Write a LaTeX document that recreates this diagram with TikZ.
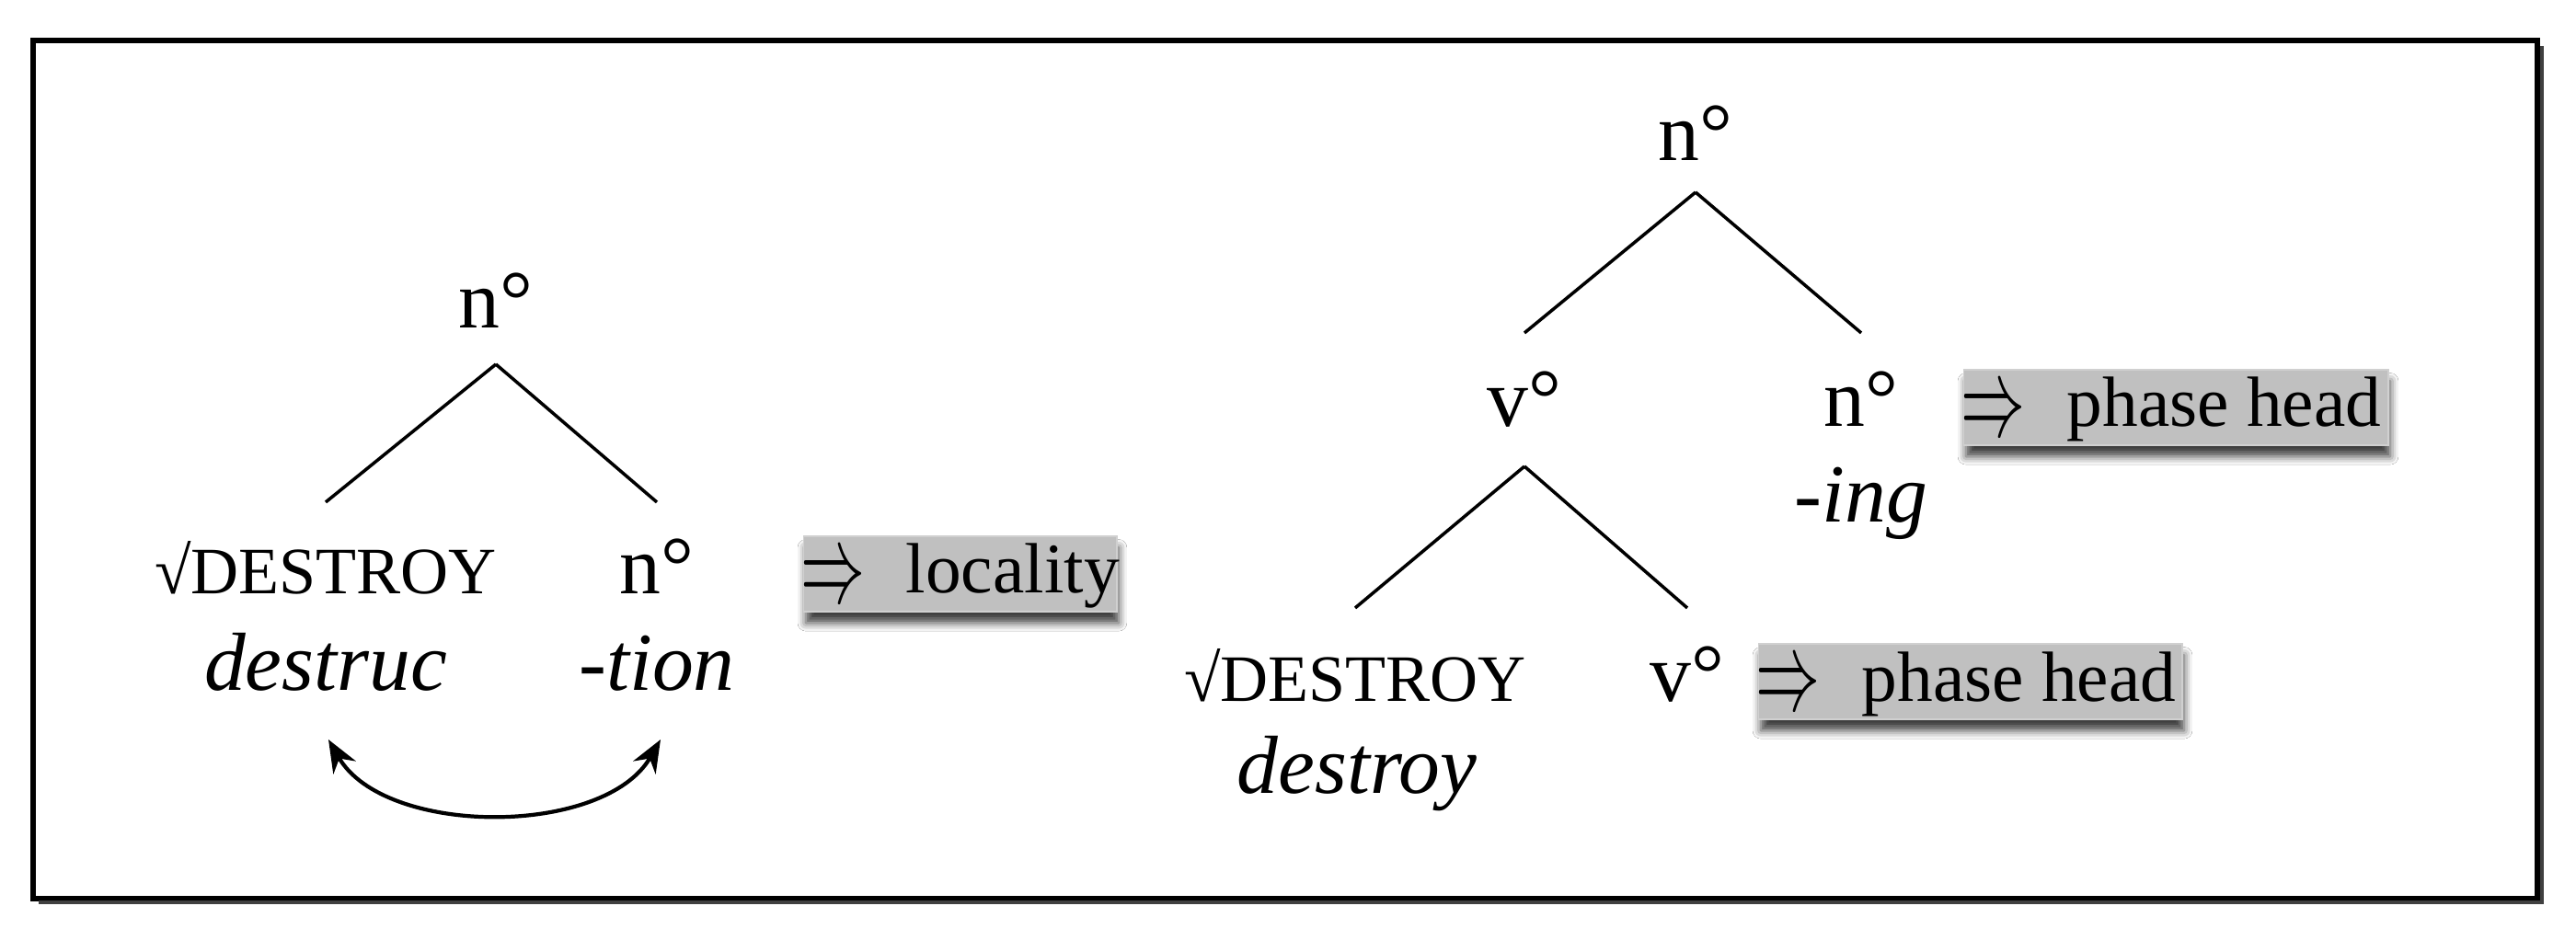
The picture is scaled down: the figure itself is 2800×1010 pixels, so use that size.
\documentclass[tikz,border=0pt]{standalone}
\usepackage{fontspec}
\setmainfont{Liberation Serif}
\usetikzlibrary{arrows.meta,shadows.blur,calc}
\definecolor{boxgray}{RGB}{192,192,192}
\definecolor{boxedge}{RGB}{208,208,208}
\newcommand{\impl}{\hspace{-0.03cm}\raisebox{-0.09cm}{\scalebox{1}[1.75]{\resizebox{0.70cm}{!}{$\Rightarrow$}}}\hspace{-0.03cm}}
\begin{document}
\begin{tikzpicture}[x=0.01cm,y=-0.01cm,
  lab/.style={inner sep=0pt, anchor=base, font=\fontsize{25.5}{30}\selectfont},
  ital/.style={inner sep=0pt, anchor=base, font=\fontsize{25.5}{30}\selectfont\itshape},
  rootlab/.style={inner sep=0pt, anchor=base, font=\fontsize{20.5}{24}\selectfont},
  branch/.style={line width=1pt},
  graybox/.style={fill=boxgray, draw=boxedge, line width=0.4pt, inner xsep=0pt, inner ysep=0pt,
    text height=0.62cm, text depth=0.20cm, anchor=base west, font=\fontsize{22}{26}\selectfont,
    blur shadow={shadow xshift=0.6pt, shadow yshift=-3.5pt, shadow blur radius=2.5pt, shadow opacity=75}},
  movearrow/.style={line width=1.2pt, {Stealth[length=10pt,width=8pt]}-{Stealth[length=10pt,width=8pt]}}
]
\useasboundingbox (0,0) rectangle (2800,1010);
\fill[white] (0,0) rectangle (2800,1010);
\draw[line width=1.8pt] (36,44) rectangle (2758,977);
\draw[line width=1.2pt, black!75] (2763,50) -- (2763,981) -- (42,981);

% left tree
\node[lab] (Lroot) at (539,357) {n°};
\node[rootlab] (Lrt) at (354,646) {√DESTROY};
\node[lab] (Ln) at (714,646) {n°};
\node[ital] (Ldes) at (354,750) {destruc};
\node[ital] (Ltion) at (714,750) {-tion};
\node[graybox] (Lbox) at (873,645) {\makebox[3.40cm][l]{\impl\hspace{0.47cm}locality}};

\draw[branch] ([yshift=-0.39cm]Lroot.base) -- ([yshift=1.00cm]Lrt.base);
\draw[branch] ([yshift=-0.39cm]Lroot.base) -- ([yshift=1.00cm]Ln.base);

\coordinate (arrL) at ([xshift=0.03cm,yshift=-0.54cm]Ldes.base);
\coordinate (arrR) at ([xshift=0.04cm,yshift=-0.54cm]Ltion.base);
\draw[movearrow] (arrL) .. controls +(61,106) and +(-61,106) .. (arrR);

% right tree
\node[lab] (Rroot) at (1843,175) {n°};
\node[lab] (Rv) at (1657,464) {v°};
\node[lab] (Rn) at (2023,464) {n°};
\node[ital] (Ring) at (2023,568) {-ing};
\node[graybox] (Rbox1) at (2134,464) {\makebox[4.61cm][l]{\impl\hspace{0.48cm}phase head}};
\node[rootlab] (Rrt) at (1473,762) {√DESTROY};
\node[lab] (Rv2) at (1834,762) {v°};
\node[ital] (Rdes) at (1475,862) {destroy};
\node[graybox] (Rbox2) at (1911,762) {\makebox[4.60cm][l]{\impl\hspace{0.48cm}phase head}};

\draw[branch] ([yshift=-0.34cm]Rroot.base) -- ([yshift=1.02cm]Rv.base);
\draw[branch] ([yshift=-0.34cm]Rroot.base) -- ([yshift=1.02cm]Rn.base);
\draw[branch] ([yshift=-0.43cm]Rv.base) -- ([yshift=1.01cm]Rrt.base);
\draw[branch] ([yshift=-0.43cm]Rv.base) -- ([yshift=1.01cm]Rv2.base);
\end{tikzpicture}
\end{document}
